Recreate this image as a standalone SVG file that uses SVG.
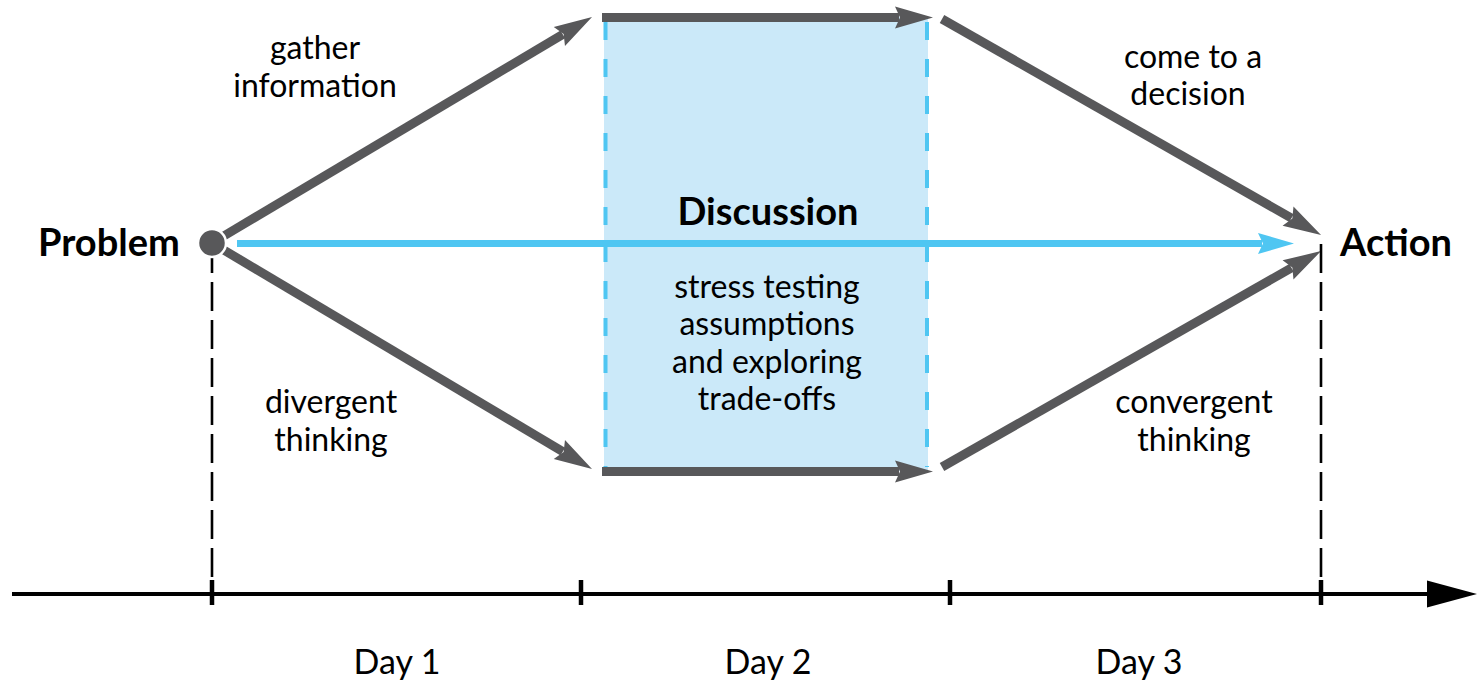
<svg xmlns="http://www.w3.org/2000/svg" width="1478" height="684" viewBox="0 0 1478 684">
<style>
.bold{font-family:Lato,"Open Sans","Liberation Sans",sans-serif;font-weight:bold;font-size:38px;fill:#000}
.reg{font-family:Lato,"Open Sans","Liberation Sans",sans-serif;font-size:32px;fill:#000;text-anchor:middle}
.day{font-size:34px}
.dk{stroke:#58585a;stroke-width:9;fill:none}
.vdash{stroke:#000;stroke-width:2.6;stroke-dasharray:29 9;fill:none}
.tick{stroke:#000;stroke-width:4.5}
</style>
<defs>
<marker id="ahd" markerUnits="userSpaceOnUse" markerWidth="40" markerHeight="24" viewBox="-2 -12 40 24" refX="4" refY="0" orient="auto">
<path d="M0,-11 L38,0 L0,11 L5,0 Z" fill="#58585a"/>
</marker>
<marker id="ahb" markerUnits="userSpaceOnUse" markerWidth="40" markerHeight="24" viewBox="-2 -12 40 24" refX="4" refY="0" orient="auto">
<path d="M0,-10.5 L36,0 L0,10.5 L5,0 Z" fill="#4fc6f2"/>
</marker>
<marker id="aht" markerUnits="userSpaceOnUse" markerWidth="54" markerHeight="30" viewBox="0 -15 54 30" refX="2" refY="0" orient="auto">
<path d="M0,-13.5 L50,0 L0,13.5 Z" fill="#000"/>
</marker>
</defs>

<g id="discussion-box">
<rect x="604" y="17" width="324" height="454" fill="#cbe9f9"/>
<line x1="605.5" y1="22" x2="605.5" y2="467" stroke="#4fc6f2" stroke-width="4" stroke-dasharray="18 19"/>
<line x1="927" y1="22" x2="927" y2="467" stroke="#4fc6f2" stroke-width="4" stroke-dasharray="18 19"/>
<text class="bold" x="768" y="225" text-anchor="middle">Discussion</text>
<text class="reg" x="767" y="298">stress testing</text>
<text class="reg" x="767" y="335">assumptions</text>
<text class="reg" x="767" y="373">and exploring</text>
<text class="reg" x="767" y="410">trade-offs</text>
</g>

<g id="connectors">
<line class="dk" x1="212" y1="243" x2="562.8" y2="34.4" marker-end="url(#ahd)"/>
<line class="dk" x1="212" y1="243" x2="562.8" y2="451.6" marker-end="url(#ahd)"/>
<line class="dk" x1="602" y1="17.5" x2="899" y2="17.5" marker-end="url(#ahd)"/>
<line class="dk" x1="602" y1="471.5" x2="899" y2="471.5" marker-end="url(#ahd)"/>
<line class="dk" x1="942" y1="19" x2="1291.5" y2="218.1" marker-end="url(#ahd)"/>
<line class="dk" x1="942" y1="467" x2="1291.5" y2="267.9" marker-end="url(#ahd)"/>
<line x1="237" y1="243.5" x2="1262" y2="243.5" stroke="#4fc6f2" stroke-width="7" marker-end="url(#ahb)"/>
<line class="vdash" x1="212" y1="244" x2="212" y2="582"/>
<line class="vdash" x1="1321" y1="244" x2="1321" y2="582"/>
</g>

<g id="timeline">
<line x1="12" y1="594" x2="1429" y2="594" stroke="#000" stroke-width="4" marker-end="url(#aht)"/>
<line class="tick" x1="212" y1="580" x2="212" y2="605"/>
<line class="tick" x1="581" y1="580" x2="581" y2="605"/>
<line class="tick" x1="950" y1="580" x2="950" y2="605"/>
<line class="tick" x1="1321" y1="580" x2="1321" y2="605"/>
<text class="reg day" x="397" y="674">Day 1</text>
<text class="reg day" x="768" y="674">Day 2</text>
<text class="reg day" x="1139" y="674">Day 3</text>
</g>

<g id="problem">
<circle cx="212" cy="243" r="14" fill="#58585a" stroke="#fff" stroke-width="2.5"/>
<text class="bold" x="38" y="256">Problem</text>
</g>

<g id="action">
<text class="bold" x="1340" y="256">Action</text>
</g>

<g id="labels">
<text class="reg" x="315" y="59">gather</text>
<text class="reg" x="315" y="97">information</text>
<text class="reg" x="1193" y="68">come to a</text>
<text class="reg" x="1188" y="105">decision</text>
<text class="reg" x="331" y="413">divergent</text>
<text class="reg" x="331" y="451">thinking</text>
<text class="reg" x="1194" y="413">convergent</text>
<text class="reg" x="1194" y="451">thinking</text>
</g>
</svg>
